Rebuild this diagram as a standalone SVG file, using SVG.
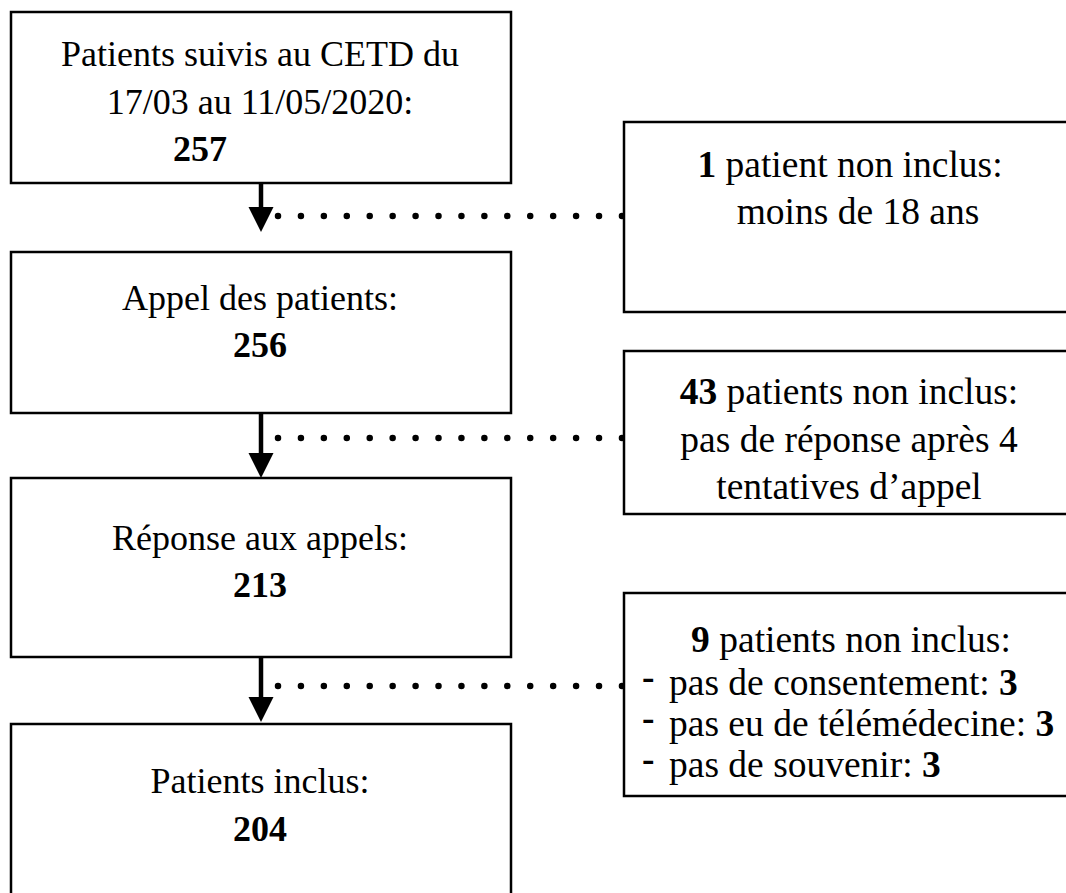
<svg xmlns="http://www.w3.org/2000/svg" width="1066" height="893" viewBox="0 0 1066 893">
<style>
.box{fill:#fff;stroke:#000;stroke-width:2.5}
text{font-family:"Liberation Serif","Times New Roman",serif;font-size:36px;fill:#000}
.r{font-size:37.5px}
.c{text-anchor:middle}
.b{font-weight:bold}
.shaft{stroke:#000;stroke-width:4.5}
.dots{stroke:#000;stroke-width:6.5;stroke-linecap:round;stroke-dasharray:0 22.93}
.dash{stroke:#000;stroke-width:4}
</style>
<rect width="1066" height="893" fill="#fff"/>
<g id="connectors">
<line class="shaft" x1="261" y1="183" x2="261" y2="209"/>
<polygon points="248.5,207 273.5,207 261,232"/>
<line class="dots" x1="278" y1="216" x2="622" y2="216"/>
<line class="shaft" x1="261" y1="413" x2="261" y2="455"/>
<polygon points="248.5,453 273.5,453 261,478"/>
<line class="dots" x1="278" y1="438" x2="622" y2="438"/>
<line class="shaft" x1="261" y1="657" x2="261" y2="699"/>
<polygon points="248.5,697 273.5,697 261,722"/>
<line class="dots" x1="278" y1="686" x2="622" y2="686"/>
</g>
<g id="n1">
<rect class="box" x="11" y="12" width="500" height="171"/>
<text class="c" x="260" y="66">Patients suivis au CETD du</text>
<text class="c" x="260" y="114">17/03 au 11/05/2020:</text>
<text class="c b" x="200" y="161">257</text>
</g>
<g id="n2">
<rect class="box" x="11" y="252" width="500" height="161"/>
<text class="c" x="260" y="310">Appel des patients:</text>
<text class="c b" x="260" y="357">256</text>
</g>
<g id="n3">
<rect class="box" x="11" y="478" width="500" height="179"/>
<text class="c" x="260" y="550">Réponse aux appels:</text>
<text class="c b" x="260" y="597">213</text>
</g>
<g id="n4">
<rect class="box" x="11" y="724" width="500" height="190"/>
<text class="c" x="260" y="793">Patients inclus:</text>
<text class="c b" x="260" y="841">204</text>
</g>
<g id="r1">
<rect class="box" x="624" y="122" width="460" height="190"/>
<text class="c r" x="850" y="177"><tspan class="b">1</tspan> patient non inclus:</text>
<text class="c r" x="858" y="224">moins de 18 ans</text>
</g>
<g id="r2">
<rect class="box" x="624" y="351" width="460" height="163"/>
<text class="c r" x="849" y="404"><tspan class="b">43</tspan> patients non inclus:</text>
<text class="c r" x="849" y="452">pas de réponse après 4</text>
<text class="c r" x="849" y="499">tentatives d’appel</text>
</g>
<g id="r3">
<rect class="box" x="624" y="593" width="460" height="203"/>
<text class="c r" x="851" y="652"><tspan class="b">9</tspan> patients non inclus:</text>
<text class="r" x="642" y="689" font-weight="bold">-</text>
<text class="r" x="669" y="695">pas de consentement: <tspan class="b">3</tspan></text>
<text class="r" x="642" y="730" font-weight="bold">-</text>
<text class="r" x="669" y="736">pas eu de télémédecine: <tspan class="b">3</tspan></text>
<text class="r" x="642" y="771" font-weight="bold">-</text>
<text class="r" x="669" y="777">pas de souvenir: <tspan class="b">3</tspan></text>
</g>
</svg>
